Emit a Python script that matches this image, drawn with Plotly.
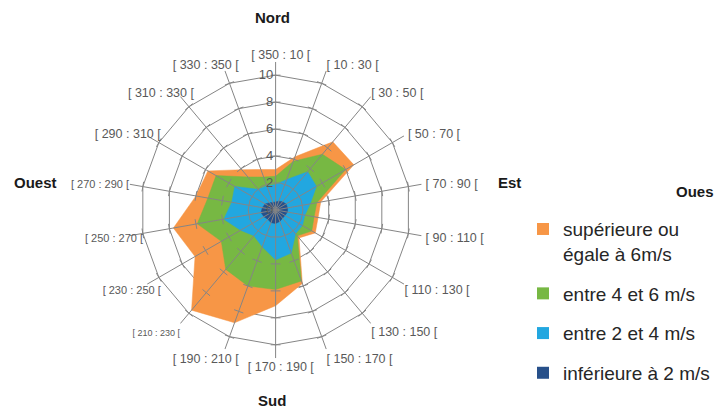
import plotly.graph_objects as go

# Wind direction sectors (20° each, clockwise from north)
SECTORS = [
    "[ 350 : 10 [", "[ 10 : 30 [", "[ 30 : 50 [", "[ 50 : 70 [", "[ 70 : 90 [",
    "[ 90 : 110 [", "[ 110 : 130 [", "[ 130 : 150 [", "[ 150 : 170 [",
    "[ 170 : 190 [", "[ 190 : 210 [", "[ 210 : 230 [", "[ 230 : 250 [",
    "[ 250 : 270 [", "[ 270 : 290 [", "[ 290 : 310 [", "[ 310 : 330 [",
    "[ 330 : 350 [",
]
SECTOR_ANGLES = [0, 20, 40, 60, 80, 100, 120, 140, 160, 180, 200, 220, 240, 260, 280, 300, 320, 340]

# Frequencies (%) per sector, cumulated from the lowest speed class upward
SPEED_GE_6 = [3.0, 4.2, 6.6, 6.7, 3.4, 3.2, 3.4, 2.7, 5.8, 7.1, 8.9, 9.7, 6.9, 7.7, 6.0, 5.8, 3.9, 3.2]
SPEED_4_6 = [2.5, 3.85, 5.4, 6.0, 3.1, 2.9, 3.1, 2.5, 5.6, 5.9, 6.0, 5.75, 4.65, 5.9, 5.1, 5.1, 3.2, 2.6]
SPEED_2_4 = [1.9, 2.4, 3.7, 3.5, 2.6, 2.2, 2.3, 2.3, 3.4, 3.7, 2.9, 2.5, 3.0, 3.9, 3.3, 3.5, 2.0, 1.9]
SPEED_LT_2 = [0.6, 0.7, 0.8, 0.9, 0.9, 0.9, 0.8, 0.8, 0.9, 1.0, 1.0, 0.9, 1.0, 1.1, 1.0, 0.9, 0.7, 0.6]

SERIES_NAMES = ["supérieure ou<br>égale à 6m/s", "entre 4 et 6 m/s", "entre 2 et 4 m/s", "inférieure à 2 m/s"]
SERIES_COLORS = ["#F79646", "#77B843", "#22A7E0", "#27508A"]

# Sector label font sizes (px)
SECTOR_LABEL_SIZES = [12.5, 12.5, 12.5, 12.5, 12.5, 12.5, 12.5, 12.5, 12.5,
                      12.5, 12.5, 9, 11, 11, 11, 12.5, 12.5, 12.5]
# Sector labels carried by the slightly offset label ring (western side)
WEST_LABELS = ["[ 190 : 210 [", "[ 230 : 250 [", "[ 250 : 270 [",
               "[ 290 : 310 [", "[ 310 : 330 [", "[ 330 : 350 ["]
# Extra leading spaces on a few eastern labels
LABEL_PAD = {"[ 350 : 10 [": 3, "[ 170 : 190 [": 3, "[ 50 : 70 [": 1,
             "[ 70 : 90 [": 1, "[ 90 : 110 [": 1}

RADIAL_TICKS = [0, 2, 4, 6, 8, 10]
RADIAL_MAX = 11

GRID = "#858585"
LABEL = "#595959"
FONT = "Liberation Sans, Arial, sans-serif"
NBSP = "\u00a0"

fig = go.Figure()

# Filled areas, largest first so smaller classes sit on top
for name, vals, col in zip(SERIES_NAMES, [SPEED_GE_6, SPEED_4_6, SPEED_2_4, SPEED_LT_2], SERIES_COLORS):
    fig.add_trace(go.Scatterpolar(
        r=vals + vals[:1], theta=SECTORS + SECTORS[:1],
        mode="lines", fill="toself", fillcolor=col,
        line=dict(color=col, width=0.5),
        showlegend=False, hoverinfo="skip",
    ))

# Spokes drawn over the areas
spoke_r, spoke_t = [], []
for s in SECTORS:
    spoke_r += [0, RADIAL_MAX, None]
    spoke_t += [s, s, s]
fig.add_trace(go.Scatterpolar(
    r=spoke_r, theta=spoke_t, mode="lines",
    line=dict(color=GRID, width=1), showlegend=False, hoverinfo="skip",
))

# Small tick marks across each spoke
tick_r, tick_t, tick_a = [], [], []
for s, a in zip(SECTORS, SECTOR_ANGLES):
    for v in RADIAL_TICKS[1:]:
        tick_r.append(v)
        tick_t.append(s)
        tick_a.append(a)
fig.add_trace(go.Scatterpolar(
    r=tick_r, theta=tick_t, mode="markers",
    marker=dict(symbol="line-ew", size=7, angle=tick_a,
                line=dict(color=GRID, width=1)),
    showlegend=False, hoverinfo="skip",
))

# Origin value label, left of the centre
fig.add_trace(go.Scatterpolar(
    r=[RADIAL_TICKS[0]], theta=[SECTORS[0]], mode="text",
    text=[f"{RADIAL_TICKS[0]}" + NBSP * 3], textposition="middle left",
    textfont=dict(size=13, color=LABEL, family=FONT),
    showlegend=False, hoverinfo="skip",
))

# Legend entries as square swatches
for i, (name, col) in enumerate(zip(SERIES_NAMES, SERIES_COLORS)):
    fig.add_trace(go.Scatterpolar(
        r=[None], theta=[SECTORS[0]], mode="markers",
        marker=dict(symbol="square", size=12, color=col),
        name=name, legendgroup=f"g{i}", showlegend=True,
    ))

# Empty trace that carries the western label ring
fig.add_trace(go.Scatterpolar(
    r=[None] * len(SECTORS), theta=SECTORS, mode="markers",
    subplot="polar2", showlegend=False, hoverinfo="skip",
))


def sector_label(text, size):
    return f'<span style="font-size:{size}px">{NBSP * LABEL_PAD.get(text, 0)}{text}</span>'


label_size = dict(zip(SECTORS, SECTOR_LABEL_SIZES))
main_text = ["" if s in WEST_LABELS else sector_label(s, label_size[s]) for s in SECTORS]
west_text = [sector_label(s, label_size[s]) if s in WEST_LABELS else "" for s in SECTORS]

angular_common = dict(
    type="category", categoryarray=SECTORS,
    direction="clockwise", rotation=90,
    showline=False, showgrid=False, ticks="", tickmode="array",
    tickvals=SECTORS,
    tickfont=dict(size=12.5, color=LABEL, family=FONT),
)

fig.update_layout(
    width=715, height=408,
    margin=dict(l=0, r=0, t=0, b=0),
    paper_bgcolor="white",
    font=dict(family=FONT, color=LABEL),
    polar=dict(
        domain=dict(x=[0.1783, 0.5937], y=[0.1213, 0.8493]),
        bgcolor="white",
        gridshape="linear",
        angularaxis=dict(**angular_common, ticktext=main_text),
        radialaxis=dict(
            range=[0, RADIAL_MAX], tickvals=RADIAL_TICKS,
            showline=False, ticks="", angle=90, side="counterclockwise",
            tickangle=90, ticksuffix=NBSP * 3,
            gridcolor=GRID, gridwidth=1,
            tickfont=dict(size=13, color=LABEL, family=FONT),
        ),
    ),
    polar2=dict(
        domain=dict(x=[0.1979, 0.6133], y=[0.1213, 0.8493]),
        bgcolor="rgba(0,0,0,0)",
        gridshape="linear",
        angularaxis=dict(**angular_common, ticktext=west_text),
        radialaxis=dict(range=[0, RADIAL_MAX], visible=False),
    ),
    legend=dict(
        x=0.732, y=0.485, xanchor="left", yanchor="top",
        valign="top", traceorder="grouped", tracegroupgap=12,
        font=dict(size=19, color="#262626", family=FONT),
        bgcolor="rgba(0,0,0,0)",
    ),
    showlegend=True,
)

# Compass labels
for txt, x, y in [("Nord", 273, 18), ("Est", 510, 182), ("Sud", 272, 400),
                  ("Ouest", 36, 182), ("Oues", 696, 191)]:
    fig.add_annotation(
        text=f"<b>{txt}</b>", x=x / 715, y=1 - y / 408,
        xref="paper", yref="paper", xanchor="center", yanchor="middle",
        showarrow=False,
        font=dict(size=15, color="#1a1a1a", family=FONT),
    )

fig.write_html("out.html")
